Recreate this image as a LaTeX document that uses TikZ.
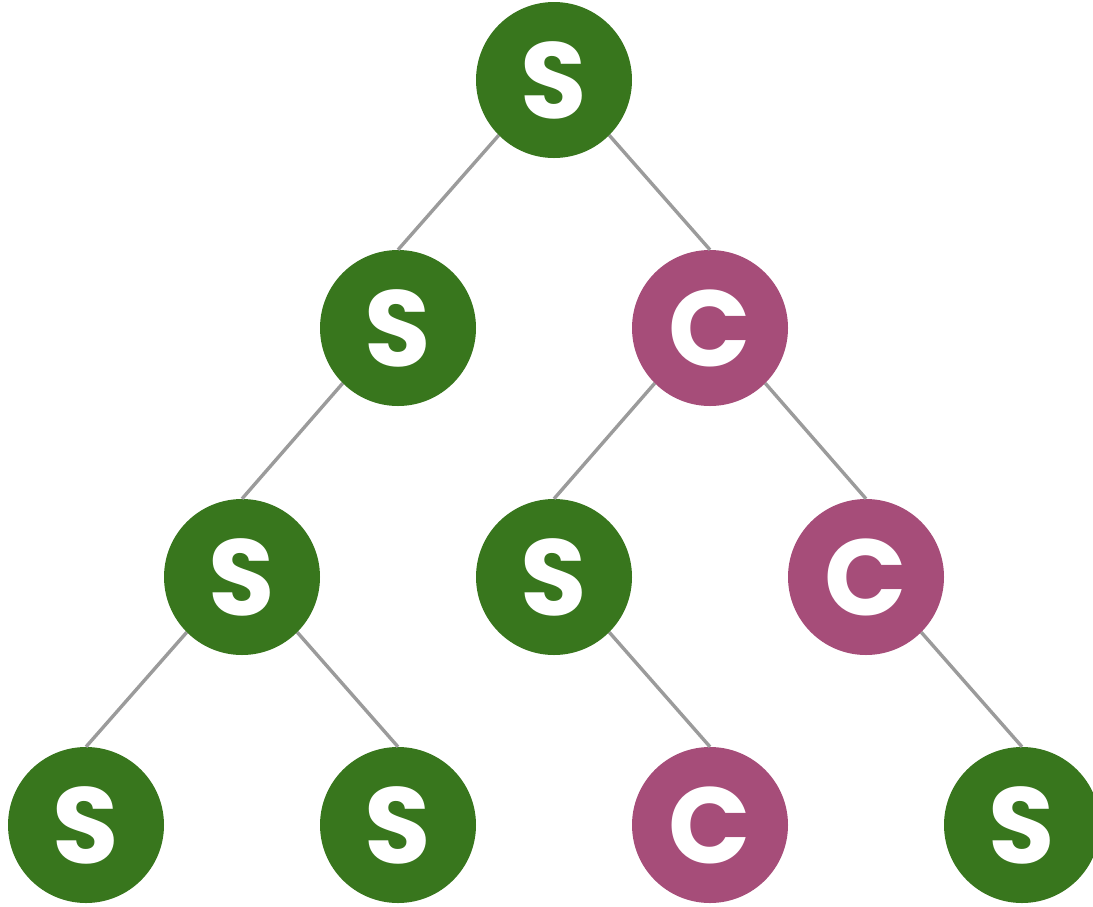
\documentclass[tikz,border=0pt]{standalone}
\usepackage{fontspec}
\setmainfont{Poppins}
\definecolor{sgreen}{HTML}{38761D}
\definecolor{cpink}{HTML}{A64D79}
\definecolor{edgegray}{HTML}{9B9B9B}
\begin{document}
\begin{tikzpicture}[x=1pt,y=-1pt,
  nd/.style={circle,minimum size=156pt,inner sep=0pt,text=white,font=\fontsize{108}{108}\selectfont\bfseries},
  sn/.style={nd,fill=sgreen},
  cn/.style={nd,fill=cpink},
  edge/.style={draw=edgegray,line width=3.4pt}]
\useasboundingbox (0,0) rectangle (1093,906);
\node[sn] (r) at (554,80) {S};
\node[sn] (a) at (398,328) {S};
\node[cn] (b) at (710,328) {C};
\node[sn] (aa) at (242,577) {S};
\node[sn] (ba) at (554,577) {S};
\node[cn] (bb) at (866,577) {C};
\node[sn] (aaa) at (86,825) {S};
\node[sn] (aab) at (398,825) {S};
\node[cn] (bab) at (710,825) {C};
\node[sn] (bbb) at (1022,825) {S};
\draw[edge] (r.south west) -- (a.north);
\draw[edge] (r.south east) -- (b.north);
\draw[edge] (a.south west) -- (aa.north);
\draw[edge] (b.south west) -- (ba.north);
\draw[edge] (b.south east) -- (bb.north);
\draw[edge] (aa.south west) -- (aaa.north);
\draw[edge] (aa.south east) -- (aab.north);
\draw[edge] (ba.south east) -- (bab.north);
\draw[edge] (bb.south east) -- (bbb.north);
\end{tikzpicture}
\end{document}
